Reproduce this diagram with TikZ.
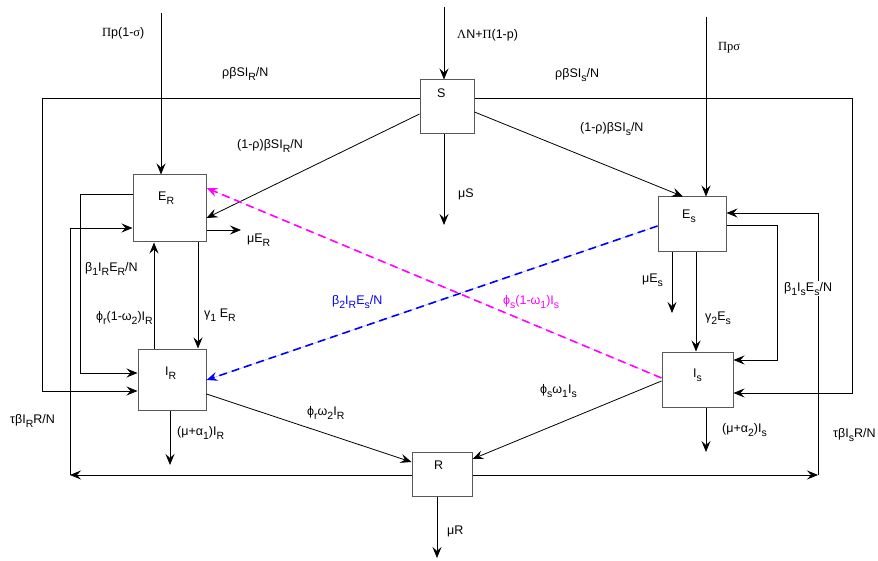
\documentclass[tikz,border=0pt]{standalone}
\usepackage{fontspec}
\setmainfont{Liberation Sans}
\newfontfamily\srf{Liberation Serif}
\usetikzlibrary{arrows.meta}
\definecolor{mag}{RGB}{255,0,255}
\definecolor{blu}{RGB}{0,0,255}
\newcommand{\lsb}[1]{\raisebox{-4pt}{\fontsize{10.5}{11}\selectfont #1}}
\begin{document}
\begin{tikzpicture}[x=1pt,y=-1pt,
  box/.style={draw=black!65, line width=1pt, inner sep=0pt},
  ln/.style={draw=black, line width=0.8pt},
  arr/.style={ln, -{Stealth[length=11pt,width=9pt,inset=4pt]}},
  dsh/.style={line width=1.6pt, dash pattern=on 8pt off 5pt},
  lab/.style={anchor=base west, inner sep=0pt, font=\fontsize{12.5}{14}\selectfont}]
\useasboundingbox (0,0) rectangle (878,561);

% boxes
\node[box, minimum width=54pt, minimum height=54pt] (S)  at (447,107) {};
\node[box, minimum width=73pt, minimum height=67pt] (ER) at (169.5,208.5) {};
\node[box, minimum width=68pt, minimum height=55pt] (Es) at (692,224.5) {};
\node[box, minimum width=68pt, minimum height=61pt] (IR) at (172,379.5) {};
\node[box, minimum width=71pt, minimum height=55pt] (Is) at (697.5,379.5) {};
\node[box, minimum width=60pt, minimum height=44pt] (R)  at (442,474) {};

% free ends and corners
\coordinate (inS)  at (444,7);
\coordinate (inEs) at (706,17);
\coordinate (inER) at (161,13);
\coordinate (c1) at (42,98);   \coordinate (c2) at (42,391);
\coordinate (c3) at (852,98);  \coordinate (c4) at (852,393);
\coordinate (c5) at (80,194);  \coordinate (c6) at (80,373);
\coordinate (c7) at (70,475);  \coordinate (c8) at (70,228);
\coordinate (c9) at (818,475); \coordinate (c10) at (818,213);
\coordinate (c11) at (777,225); \coordinate (c12) at (777,360);
\coordinate (oS)  at (444,225);
\coordinate (oER) at (241,230);
\coordinate (oEs) at (672,313);
\coordinate (oIs) at (706,452);
\coordinate (oIR) at (170,465);
\coordinate (oR)  at (437,558);

% inflows
\draw[arr] (inS) -- (inS |- S.north);
\draw[arr] (inEs) -- (inEs |- Es.north);
\draw[arr] (inER) -- (inER |- ER.north);

% rho beta S I / N loops
\draw[arr] (S.west |- c1) -- (c1) -- (c2) -- (IR.west |- c2);
\draw[arr] (S.east |- c3) -- (c3) -- (c4) -- (Is.east |- c4);

% S to exposed
\draw[arr] (S.west |- 0,114) -- (ER.east |- 0,218);
\draw[arr] (S.east |- 0,112) -- (683,0 |- Es.north);

% outflows
\draw[arr] (S.south -| oS) -- (oS);
\draw[arr] (ER.east |- oER) -- (oER);
\draw[arr] (Es.south -| oEs) -- (oEs);
\draw[arr] (Is.south -| oIs) -- (oIs);
\draw[arr] (IR.south -| oIR) -- (oIR);
\draw[arr] (R.south -| oR) -- (oR);

% E_R <-> I_R
\draw[arr] (ER.south -| 198,0) -- (IR.north -| 198,0);
\draw[arr] (IR.north -| 154,0) -- (ER.south -| 154,0);
\draw[arr] (ER.west |- c5) -- (c5) -- (c6) -- (IR.west |- c6);

% E_s -> I_s
\draw[arr] (Es.south -| 696,0) -- (Is.north -| 696,0);
\draw[arr] (Es.east |- c11) -- (c11) -- (c12) -- (Is.east |- c12);

% R loops
\draw[arr] (R.west |- c7) -- (c7);
\draw[arr] (c7) -- (c8) -- (ER.west |- c8);
\draw[arr] (R.east |- c9) -- (c9);
\draw[arr] (c9) -- (c10) -- (Es.east |- c10);

% to R
\draw[arr] (IR.east |- 0,394) -- (R.west |- 0,462);
\draw[arr] (Is.west |- 0,381) -- (R.east |- 0,459);

% dashed cross flows
\draw[arr, dsh, draw=mag, fill=mag] (Is.west |- 0,378) -- (ER.east |- 0,188);
\draw[arr, dsh, draw=blu, fill=blu] (Es.west |- 0,226) -- (IR.east |- 0,380);

% box labels
\node[lab] (tS)  at (437,98)  {S};
\node[lab] (tER) at (158,201) {E\lsb{R}};
\node[lab] (tEs) at (682,219) {E\lsb{s}};
\node[lab] (tIR) at (165,375) {I\lsb{R}};
\node[lab] (tIs) at (693,377) {I\lsb{s}};
\node[lab] (tR)  at (434,469) {R};

% flow labels
\node[lab] (l1)  at (102,37)  {{\srf Π}p(1-{\srf σ})};
\node[lab] (l2)  at (222,77)  {ρβSI\lsb{R}/N};
\node[lab] (l3)  at (457,39)  {{\srf Λ}N+{\srf Π}(1-p)};
\node[lab] (l4)  at (555,78)  {ρβSI\lsb{s}/N};
\node[lab] (l5)  at (718,51)  {{\srf Πpσ}};
\node[lab] (l6)  at (237,149) {(1-ρ)βSI\lsb{R}/N};
\node[lab] (l7)  at (580,132) {(1-ρ)βSI\lsb{s}/N};
\node[lab] (l8)  at (458,198) {μS};
\node[lab] (l9)  at (247,243) {μE\lsb{R}};
\node[lab] (l10) at (85,272)  {β\lsb{1}I\lsb{R}E\lsb{R}/N};
\node[lab] (l11) at (96,320)  {ϕ\lsb{r}(1-ω\lsb{2})I\lsb{R}};
\node[lab] (l12) at (204,317) {γ\lsb{1} E\lsb{R}};
\node[lab, text=blu] (l13) at (332,305) {β\lsb{2}I\lsb{R}E\lsb{s}/N};
\node[lab, text=mag] (l14) at (503,305) {ϕ\lsb{s}(1-ω\lsb{1})I\lsb{s}};
\node[lab] (l15) at (642,283) {μE\lsb{s}};
\node[lab] (l16) at (705,320) {γ\lsb{2}E\lsb{s}};
\node[lab, fill=white, inner sep=1pt] (l17) at (783,291) {β\lsb{1}I\lsb{s}E\lsb{s}/N};
\node[lab] (l18) at (540,393) {ϕ\lsb{s}ω\lsb{1}I\lsb{s}};
\node[lab] (l19) at (722,432) {(μ+α\lsb{2})I\lsb{s}};
\node[lab] (l20) at (833,437) {τβI\lsb{s}R/N};
\node[lab] (l21) at (10,423)  {τβI\lsb{R}R/N};
\node[lab] (l22) at (177,435) {(μ+α\lsb{1})I\lsb{R}};
\node[lab] (l23) at (307,415) {ϕ\lsb{r}ω\lsb{2}I\lsb{R}};
\node[lab] (l24) at (447,534) {μR};
\end{tikzpicture}
\end{document}
